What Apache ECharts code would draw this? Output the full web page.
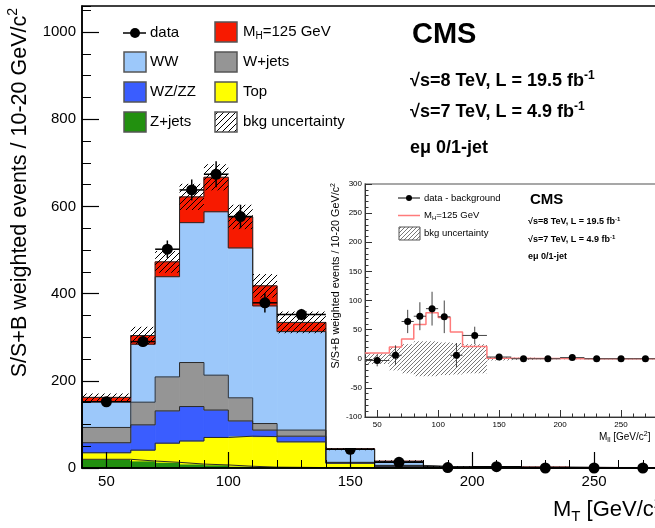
<!DOCTYPE html>
<html>
<head>
<meta charset="utf-8">
<script src="https://cdn.jsdelivr.net/npm/echarts@6/dist/echarts.min.js"></script>
<style>
  html, body { margin: 0; padding: 0; background: #fff; }
  #main { width: 655px; height: 528px; }
</style>
</head>
<body>
<div id="main"></div>
<script>
// bins of M_T (GeV/c^2)
var edges   = [40, 60, 70, 80, 90, 100, 110, 120, 140, 160, 180, 200, 220, 240, 260, 280];
var centers = [50, 65, 75, 85, 95, 105, 115, 130, 150, 170, 190, 210, 230, 250, 270];

// stacked backgrounds + signal, per bin
var zjets = [20, 16, 13, 9, 7, 4, 2, 1, 1, 0, 0, 0, 0, 0, 0];
var topq  = [15, 25, 44, 53, 63, 69, 70, 59, 10, 3, 1, 0.5, 0.5, 0.3, 0.3];
var wzzz  = [23, 58, 74, 79, 63, 35, 15, 13, 1, 2, 0.3, 0.2, 0.2, 0.1, 0.1];
var wjets = [35, 52, 78, 101, 80, 53, 15, 14, 1, 1, 0.3, 0.2, 0.2, 0.1, 0.1];
var ww    = [59, 133, 230, 321, 375, 344, 270, 226, 30, 9, 1.5, 1, 0.8, 0.6, 0.5];
var higgs = [10, 20, 34, 59, 79, 71, 46, 21, 1, 0.5, 0.3, 0.2, 0.2, 0.1, 0.1];
var bkgUnc = [9, 20, 25, 30, 30, 28, 27, 25, 3, 2, 1, 1, 1, 1, 1];

// data points
var dataY   = [152, 290, 502, 638, 674, 577, 379, 352, 43, 13, 1, 3, 0, 0, 0];
var dataErr = [10, 12, 20, 24, 30, 27, 22, 13, 8, 4, 2, 2, 2, 2, 2];

// inset: data - background
var subY   = [-3, 6, 64, 73, 86, 72, 6, 40, 3, 0, 0, 2, 0, 0, 0];
var subErr = [10, 17, 20, 24, 29, 28, 21, 15, 5, 2, 2, 2, 2, 2, 2];

// tick labels
var mainXTicks  = [50, 100, 150, 200, 250, 300];
var mainYTicks  = [0, 200, 400, 600, 800, 1000];
var insetXTicks = [50, 100, 150, 200, 250, 300];

var FONT = 'Liberation Sans, Arial, Helvetica, sans-serif';

var stackVals   = [zjets, topq, wzzz, wjets, ww, higgs];
var stackColors = ['#22900f', '#ffff00', '#3a5dff', '#959595', '#9cc8fa', '#f71a00'];

// hatch pattern
function hatch(color, gap, lw) {
  var c = document.createElement('canvas');
  c.width = gap; c.height = gap;
  var g = c.getContext('2d');
  g.strokeStyle = color; g.lineWidth = lw;
  g.beginPath();
  g.moveTo(0, gap); g.lineTo(gap, 0);
  g.moveTo(-1, 1); g.lineTo(1, -1);
  g.moveTo(gap - 1, gap + 1); g.lineTo(gap + 1, gap - 1);
  g.stroke();
  return { image: c, repeat: 'repeat' };
}
var hatchMain = hatch('#000', 6, 1);
var hatchInset = hatch('#555', 4, 0.8);

function rectRender(fill, stroke) {
  return function (params, api) {
    var p0 = api.coord([api.value(0), api.value(3)]);
    var p1 = api.coord([api.value(1), api.value(2)]);
    return {
      type: 'rect',
      shape: { x: p0[0], y: p0[1], width: p1[0] - p0[0], height: p1[1] - p0[1] },
      style: { fill: fill, stroke: stroke || null, lineWidth: stroke ? 0.8 : 0 }
    };
  };
}

function pointRender(r, color, lw) {
  return function (params, api) {
    var x = api.value(0), y = api.value(1), e = api.value(2);
    var p = api.coord([x, y]);
    var t = api.coord([x, y + e]);
    var b = api.coord([x, y - e]);
    var l = api.coord([api.value(3), y]);
    var rr = api.coord([api.value(4), y]);
    return {
      type: 'group',
      children: [
        { type: 'line', shape: { x1: p[0], y1: t[1], x2: p[0], y2: b[1] }, style: { stroke: color, lineWidth: lw } },
        { type: 'line', shape: { x1: l[0], y1: p[1], x2: rr[0], y2: p[1] }, style: { stroke: color, lineWidth: lw } },
        { type: 'circle', shape: { cx: p[0], cy: p[1], r: r }, style: { fill: '#000' } }
      ]
    };
  };
}

var series = [];
var cum = centers.map(function () { return 0; });
stackVals.forEach(function (vals, k) {
  var rects = vals.map(function (v, i) {
    var r = [edges[i], edges[i + 1], cum[i], cum[i] + v];
    cum[i] += v;
    return r;
  });
  series.push({
    type: 'custom', xAxisIndex: 0, yAxisIndex: 0, z: 2, silent: true,
    renderItem: rectRender(stackColors[k], stackColors[k]), data: rects
  });
  var pts = [[edges[0], 0]];
  cum.forEach(function (c, i) { pts.push([edges[i], c]); pts.push([edges[i + 1], c]); });
  pts.push([edges[edges.length - 1], 0]);
  series.push({
    type: 'line', xAxisIndex: 0, yAxisIndex: 0, z: 3, silent: true, symbol: 'none',
    lineStyle: { color: '#2a2a2a', width: 1 }, data: pts
  });
});

// bkg uncertainty around total
series.push({
  type: 'custom', xAxisIndex: 0, yAxisIndex: 0, z: 4, silent: true,
  renderItem: rectRender(hatchMain),
  data: cum.map(function (c, i) { return [edges[i], edges[i + 1], c - bkgUnc[i], c + bkgUnc[i]]; })
});
series.push({
  type: 'custom', xAxisIndex: 0, yAxisIndex: 0, z: 5, silent: true,
  renderItem: pointRender(5.5, '#000', 1.5),
  data: centers.map(function (c, i) { return [c, dataY[i], dataErr[i], edges[i], edges[i + 1]]; })
});

// inset
series.push({
  type: 'custom', xAxisIndex: 2, yAxisIndex: 2, z: 13, silent: true,
  renderItem: rectRender(hatchInset),
  data: bkgUnc.map(function (u, i) { return [edges[i], edges[i + 1], -u, u]; })
});
var sigPts = [];
higgs.forEach(function (h, i) { sigPts.push([edges[i], h]); sigPts.push([edges[i + 1], h]); });
series.push({
  type: 'line', xAxisIndex: 2, yAxisIndex: 2, z: 14, silent: true, symbol: 'none',
  lineStyle: { color: '#ff7b7b', width: 1.5 }, data: sigPts,
  markLine: {
    silent: true, symbol: ['none', 'none'], label: { show: false },
    lineStyle: { color: '#000', type: 'dashed', width: 1.2 },
    data: [{ yAxis: 0 }]
  }
});
series.push({
  type: 'custom', xAxisIndex: 2, yAxisIndex: 2, z: 15, silent: true,
  renderItem: pointRender(3.5, '#444', 1),
  data: centers.map(function (c, i) { return [c, subY[i], subErr[i], edges[i], edges[i + 1]]; })
});

function txt(x, y, text, size, opts) {
  opts = opts || {};
  var w = opts.bold ? 'bold' : 'normal';
  var s = Math.round(size * 0.66);
  return {
    type: 'text', x: x, y: y, z: 30, rotation: opts.rot || 0,
    style: {
      text: text, fill: '#000', fontSize: size, fontFamily: FONT, fontWeight: w,
      align: opts.align || 'left', textAlign: opts.align || 'left',
      verticalAlign: 'middle', textVerticalAlign: 'middle',
      rich: {
        a: { fontSize: size, fontFamily: FONT, fontWeight: w, fill: '#000' },
        s: { fontSize: s, fontFamily: FONT, fontWeight: w, fill: '#000', padding: [Math.round(size * 0.6), 0, 0, 0] },
        p: { fontSize: s, fontFamily: FONT, fontWeight: w, fill: '#000', padding: [0, 0, Math.round(size * 0.6), 0] }
      }
    }
  };
}
function box(x, y, w, h, fill, stroke, lw) {
  return { type: 'rect', z: 30, shape: { x: x, y: y, width: w, height: h }, style: { fill: fill, stroke: stroke, lineWidth: lw } };
}
function seg(x1, y1, x2, y2, color, lw) {
  return { type: 'line', z: 30, shape: { x1: x1, y1: y1, x2: x2, y2: y2 }, style: { stroke: color, lineWidth: lw } };
}

var graphics = [
  { type: 'rect', z: 10, shape: { x: 329, y: 172, width: 330, height: 276 }, style: { fill: '#fff' } },
  // main axis titles
  txt(20, 8, '{a|S/S+B weighted events / 10-20 GeV/c}{p|2}', 21.5, { align: 'right', rot: Math.PI / 2 }),
  txt(553, 510, '{a|M}{s|T}{a| [GeV/c}{p|2}{a|]}', 22),
  // main legend
  seg(123, 33, 146, 33, '#000', 1.5),
  { type: 'circle', z: 31, shape: { cx: 135, cy: 33, r: 5 }, style: { fill: '#000' } },
  txt(150, 33, 'data', 15),
  box(124, 52, 22, 20, stackColors[4], '#555', 1.5), txt(150, 62, 'WW', 15),
  box(124, 82, 22, 20, stackColors[2], '#555', 1.5), txt(150, 92, 'WZ/ZZ', 15),
  box(124, 112, 22, 20, stackColors[0], '#555', 1.5), txt(150, 122, 'Z+jets', 15),
  box(215, 22, 22, 20, stackColors[5], '#555', 1.5), txt(243, 32, '{a|M}{s|H}{a|=125 GeV}', 15),
  box(215, 52, 22, 20, stackColors[3], '#555', 1.5), txt(243, 62, 'W+jets', 15),
  box(215, 82, 22, 20, stackColors[1], '#555', 1.5), txt(243, 92, 'Top', 15),
  box(215, 112, 22, 20, hatchMain, '#555', 1.5), txt(243, 122, 'bkg uncertainty', 15),
  // main labels
  txt(412, 35, 'CMS', 29, { bold: true }),
  txt(410, 81, '{a|√s=8 TeV, L = 19.5 fb}{p|-1}', 18, { bold: true }),
  txt(410, 112, '{a|√s=7 TeV, L = 4.9 fb}{p|-1}', 18, { bold: true }),
  txt(410, 148, 'eμ 0/1-jet', 18, { bold: true }),
  // inset titles
  txt(336, 183, '{a|S/S+B weighted events / 10-20 GeV/c}{p|2}', 10.8, { align: 'right', rot: Math.PI / 2 }),
  txt(599, 437, '{a|M}{s|ll}{a| [GeV/c}{p|2}{a|]}', 10),
  // inset legend
  seg(398, 198, 420, 198, '#000', 1),
  { type: 'circle', z: 31, shape: { cx: 409, cy: 198, r: 3 }, style: { fill: '#000' } },
  txt(424, 198, 'data - background', 9.5),
  seg(398, 215.5, 420, 215.5, '#ff7b7b', 1.5),
  txt(424, 215.5, '{a|M}{s|H}{a|=125 GeV}', 9.5),
  box(399, 227, 21, 13, hatchInset, '#555', 1),
  txt(424, 233, 'bkg uncertainty', 9.5),
  // inset labels
  txt(530, 200, 'CMS', 15, { bold: true }),
  txt(528, 222, '{a|√s=8 TeV, L = 19.5 fb}{p|-1}', 9, { bold: true }),
  txt(528, 240, '{a|√s=7 TeV, L = 4.9 fb}{p|-1}', 9, { bold: true }),
  txt(528, 257, 'eμ 0/1-jet', 9, { bold: true })
];

function plain(v) { return String(v); }

function axisBase(o) {
  var base = {
    type: 'value', splitLine: { show: false },
    axisLine: { show: true, onZero: false, lineStyle: { color: '#000', width: 1.5 } }
  };
  for (var k in o) base[k] = o[k];
  return base;
}

var option = {
  animation: false,
  backgroundColor: '#fff',
  grid: [
    { left: 82, top: 6, width: 634, height: 462, show: true, borderColor: '#000', borderWidth: 1.5,
      backgroundColor: 'transparent', z: 6, outerBoundsMode: 'none', containLabel: false },
    { left: 365, top: 184, width: 317, height: 233, show: true, borderColor: '#8a8a8a', borderWidth: 1.5,
      backgroundColor: 'transparent', z: 12, outerBoundsMode: 'none', containLabel: false }
  ],
  xAxis: [
    axisBase({ gridIndex: 0, min: 40, max: 300, position: 'bottom', z: 6,
      axisTick: { inside: true, length: 16, customValues: mainXTicks, lineStyle: { color: '#000', width: 1.2 } },
      axisLabel: { customValues: mainXTicks, formatter: plain, color: '#000', fontSize: 15, fontFamily: FONT, margin: 6 } }),
    axisBase({ gridIndex: 0, min: 40, max: 300, interval: 10, position: 'bottom', z: 6,
      axisLine: { show: false, onZero: false },
      axisTick: { inside: true, length: 8, lineStyle: { color: '#000', width: 1 } },
      axisLabel: { show: false } }),
    axisBase({ gridIndex: 1, min: 40, max: 300, position: 'bottom', z: 12,
      axisLine: { show: true, onZero: false, lineStyle: { color: '#333', width: 1 } },
      axisTick: { inside: true, length: 7, customValues: insetXTicks, lineStyle: { color: '#333', width: 1 } },
      axisLabel: { customValues: insetXTicks, formatter: plain, color: '#000', fontSize: 8, fontFamily: FONT, margin: 4 } }),
    axisBase({ gridIndex: 1, min: 40, max: 300, interval: 10, position: 'bottom', z: 12,
      axisLine: { show: false, onZero: false },
      axisTick: { inside: true, length: 3.5, lineStyle: { color: '#333', width: 1 } },
      axisLabel: { show: false } })
  ],
  yAxis: [
    axisBase({ gridIndex: 0, min: 0, max: 1060, position: 'left', z: 6,
      axisTick: { inside: true, length: 17, customValues: mainYTicks, lineStyle: { color: '#000', width: 1.2 } },
      axisLabel: { customValues: mainYTicks, formatter: plain, color: '#000', fontSize: 15, fontFamily: FONT, margin: 6 } }),
    axisBase({ gridIndex: 0, min: 0, max: 1060, interval: 50, position: 'left', z: 6,
      axisLine: { show: false, onZero: false },
      axisTick: { inside: true, length: 9, lineStyle: { color: '#000', width: 1 } },
      axisLabel: { show: false } }),
    axisBase({ gridIndex: 1, min: -100, max: 300, interval: 50, position: 'left', z: 12,
      axisLine: { show: true, onZero: false, lineStyle: { color: '#333', width: 1 } },
      axisTick: { inside: true, length: 7, lineStyle: { color: '#333', width: 1 } },
      minorTick: { show: true, splitNumber: 5, length: 3.5, lineStyle: { color: '#333', width: 1 } },
      axisLabel: { formatter: plain, color: '#000', fontSize: 8, fontFamily: FONT, margin: 3 } })
  ],
  graphic: { elements: graphics },
  series: series
};

var chart = echarts.init(document.getElementById('main'));
chart.setOption(option);
</script>
</body>
</html>
